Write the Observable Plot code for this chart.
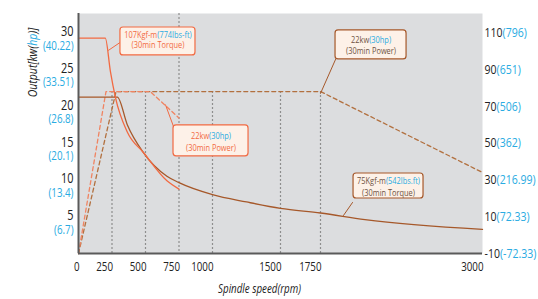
<!DOCTYPE html>
<html><head><meta charset="utf-8">
<script src="https://cdn.jsdelivr.net/npm/d3@7"></script>
<script src="https://cdn.jsdelivr.net/npm/@observablehq/plot@0.6"></script>
<style>
body{margin:0;background:#fff;}
#chart svg{display:block;}
</style></head><body><div id="chart"></div>
<script>
// ---- data ----
const xTicks = [0, 250, 500, 750, 1000, 1500, 1750, 3000];
const leftTicks = [30, 25, 20, 15, 10, 5];
const leftHp = ["(40.22)", "(33.51)", "(26.8)", "(20.1)", "(13.4)", "(6.7)"];
const rightTicks = [110, 90, 70, 50, 30, 10, -10];
const rightLabels = ["110(796)", "90(651)", "70(506)", "50(362)", "30(216.99)", "10(72.33)", "-10(-72.33)"];
const gridFull = [750];
const gridLow = [250, 500, 1000, 1500, 1750];
// torque curves, Kgf-m (right axis)
const torque107 = [[0,107],[200,107],[238,89],[275,75],[364,56],[483,45],[660,29.5],[750,25]];
const torque75 = [[0,75],[290,75],[364,60],[483,45],[660,32],[750,28.5],[1000,22],[1250,18],[1500,14.5],[1750,12],[2093,8.4],[3000,3.1]];
// power curves, kW (left axis)
const power22a = [[0,0],[205,22],[535,22],[750,18.4]];
const power22b = [[0,0],[280,22],[1750,22],[3000,11]];
// annotation texts
const boxLine1 = ["107Kgf-m(774lbs-ft)", "22kw(30hp)", "22kw(30hp)", "75Kgf-m(542lbs.ft)"];
const boxLine2 = ["(30min Torque)", "(30min Power)", "(30min Power)", "(30min Torque)"];
const xTitle = "Spindle speed(rpm)";
const yTitle = "Output[kw(hp)]";

// ---- layout / style ----
const FONT = '"Open Sans","Liberation Sans",sans-serif';
const SQUEEZE = 0.78;
const BLUE = "#29abe2";
const OR = "#f26a42", OR_D = "#f08462", BR = "#a6582a", BR_D = "#b2703f";
const boxes = [
  {x1:313, x2:873, y1:26.9, y2:30.7, tx:593, t1:29.75, t2:28.26, stroke:OR, color:OR, lx:[313,224], ly:[28.7,27.6]},
  {x1:709, x2:1265, y1:13.2, y2:17.4, tx:989, t1:16.0, t2:14.4, stroke:OR, color:OR, lx:[709,649], ly:[17.25,20.2]},
  {x1:1866, x2:2414, y1:26.36, y2:30.3, tx:2140, t1:28.94, t2:27.58, stroke:BR, color:"#6e5142", lx:[1866,1750], ly:[26.36,21.74]},
  {x1:2005, x2:2545, y1:7.47, y2:10.87, tx:2275, t1:9.92, t2:8.29, stroke:BR, color:"#6e5142", lx:[1997,1927], ly:[6.93,5.16]}
];
const toL = r => (r + 10) / 4;

const boxMarks = boxes.flatMap((b, i) => [
  Plot.line([0,1], {x: j => b.lx[j], y: j => b.ly[j], stroke: b.stroke, strokeWidth: 1}),
  Plot.rect([b], {x1:"x1", x2:"x2", y1:"y1", y2:"y2", fill:"#fdf1e8", stroke:b.stroke, strokeWidth:1.2, rx:3}),
  Plot.text([b], {x:"tx", y:"t1", text: () => boxLine1[i], fill:b.color, fontSize:9.5}),
  Plot.text([b], {x:"tx", y:"t2", text: () => boxLine2[i], fill:b.color, fontSize:9.5})
]);

const plot = Plot.plot({
  width: 538, height: 299,
  marginLeft: 78, marginRight: 56, marginTop: 13, marginBottom: 46,
  x: {type: "linear", domain: [0, 1000, 1500, 1750, 3000], range: [78, 212, 280, 320, 482], axis: null},
  y: {domain: [0, 32.6], axis: null},
  style: {fontFamily: FONT, background: "transparent", overflow: "visible"},
  marks: [
    Plot.frame({fill: "#dcdddf", stroke: "none"}),
    Plot.ruleX(gridFull, {stroke: "#8e8e8e", strokeDasharray: "2,2", strokeWidth: 1.2}),
    Plot.ruleX(gridLow, {y1: 0, y2: 22, stroke: "#8e8e8e", strokeDasharray: "2,2", strokeWidth: 1.2}),
    Plot.line(power22b, {x: d => d[0], y: d => d[1], stroke: BR_D, strokeWidth: 1.3, strokeDasharray: "4,3"}),
    Plot.line(power22a, {x: d => d[0], y: d => d[1], stroke: OR_D, strokeWidth: 1.3, strokeDasharray: "4,3"}),
    Plot.line(torque75, {x: d => d[0], y: d => toL(d[1]), stroke: BR, strokeWidth: 1.3, curve: "monotone-x"}),
    Plot.line(torque107, {x: d => d[0], y: d => toL(d[1]), stroke: OR, strokeWidth: 1.3, curve: "monotone-x"}),
    ...boxMarks,
    Plot.ruleX([0], {stroke: "#5a5a5a", strokeWidth: 2}),
    Plot.ruleY([0], {stroke: "#5a5a5a", strokeWidth: 2}),
    Plot.text(xTicks, {x: d => d, y: 0, text: d => String(d), textAnchor: "end", dx: 1, dy: 13, fontSize: 12.5, fill: "#222"}),
    Plot.text(leftTicks, {x: 0, y: d => d, text: d => String(d), textAnchor: "end", dx: -5, dy: -1, fontSize: 14, fill: "#222"}),
    Plot.text(leftTicks, {x: 0, y: d => d, text: (d, i) => leftHp[i], textAnchor: "end", dx: -5, dy: 13, fontSize: 12.5, fill: BLUE}),
    Plot.text(rightTicks, {x: 3000, y: r => toL(r), text: (d, i) => rightLabels[i], textAnchor: "start", dx: 2, fontSize: 13.5, fill: "#222"}),
    Plot.text([xTitle], {frameAnchor: "bottom", textAnchor: "middle", lineAnchor: "middle", dx: -21, dy: 35, fontSize: 12.5, fontStyle: "italic", fill: "#222"}),
    Plot.text([yTitle], {frameAnchor: "top-left", textAnchor: "middle", lineAnchor: "middle", dx: -46, dy: 49, rotate: -90, fontSize: 13.5, fontStyle: "italic", fill: "#222"})
  ]
});

// colour the imperial-unit parts blue
function splitText(el, parts) {
  const t = d3.select(el); t.text(null);
  for (const [s, blue] of parts) { const sp = t.append("tspan").text(s); if (blue) sp.attr("fill", BLUE); }
}
d3.select(plot).selectAll("text").each(function () {
  const s = this.textContent;
  if (s === yTitle) {
    const i = s.indexOf("hp");
    splitText(this, [[s.slice(0, i), false], ["hp", true], [s.slice(i + 2), false]]);
  } else if (rightLabels.includes(s) || boxLine1.includes(s)) {
    const i = s.indexOf("(");
    splitText(this, [[s.slice(0, i), false], [s.slice(i), true]]);
  }
});
document.getElementById("chart").appendChild(plot);
// condense the lettering (reference uses a condensed face)
d3.select(plot).selectAll("text").each(function () {
  const w = this.getComputedTextLength();
  if (w > 0) {
    this.setAttribute("textLength", (w * SQUEEZE).toFixed(2));
    this.setAttribute("lengthAdjust", "spacingAndGlyphs");
  }
});
</script>
</body></html>
